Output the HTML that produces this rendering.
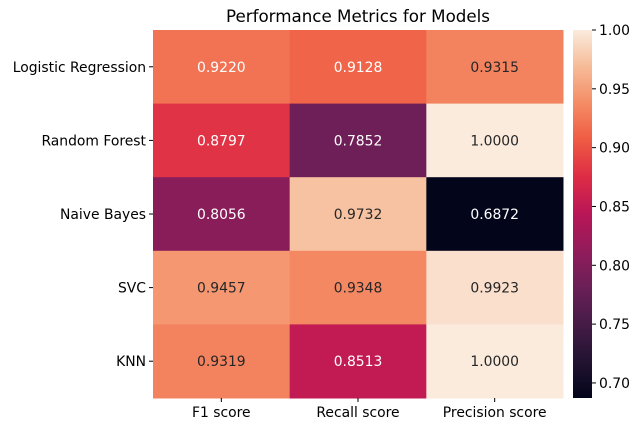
<!DOCTYPE html>
<html><head><meta charset="utf-8"><style>
body{margin:0;background:#fff;}
svg{display:block;font-family:"DejaVu Sans","Liberation Sans",sans-serif;}
</style></head><body>
<svg id="chart" width="643" height="433"></svg>
<script>
const models = ["Logistic Regression","Random Forest","Naive Bayes","SVC","KNN"];
const metrics = ["F1 score","Recall score","Precision score"];
const f1Values = [0.9220,0.8797,0.8056,0.9457,0.9319];
const recallValues = [0.9128,0.7852,0.9732,0.9348,0.8513];
const precisionValues = [0.9315,1.0000,0.6872,0.9923,1.0000];
const cbTicks = [0.70,0.75,0.80,0.85,0.90,0.95,1.00];

const series = [f1Values, recallValues, precisionValues];
const all = series.flat();
const vmin = Math.min(...all), vmax = Math.max(...all);
const L=153, R=563, T=30, B=398;
const cw=(R-L)/metrics.length, rh=(B-T)/models.length;
const stops=["#03051a","#221331","#451c47","#6a1f56","#921c5b","#b91657","#dd2c45","#ef5a43","#f48c65","#f6bb97","#faebdd"];
function hex(h){return [1,3,5].map(i=>parseInt(h.substr(i,2),16));}
function color(v){
  let t=(v-vmin)/(vmax-vmin); t=Math.max(0,Math.min(1,t));
  const p=t*10, i=Math.min(9,Math.floor(p)), f=p-i;
  const a=hex(stops[i]), b=hex(stops[i+1]);
  return "rgb("+a.map((x,k)=>Math.round(x+(b[k]-x)*f)).join(",")+")";
}
function lum(v){const c=color(v).match(/\d+/g).map(Number);return (0.299*c[0]+0.587*c[1]+0.114*c[2])/255;}
const svg=document.getElementById("chart");
const NS="http://www.w3.org/2000/svg";
function mk(tag,attrs,parent){const e=document.createElementNS(NS,tag);for(const k in attrs)e.setAttribute(k,attrs[k]);(parent||svg).appendChild(e);return e;}
const xs=j=>L+j*cw, ys=i=>T+i*rh;
const FS="13.9";

const title=mk("text",{x:(L+R)/2,y:22,"text-anchor":"middle","font-size":"16.7",fill:"#000"});
title.textContent="Performance Metrics for Models";



for(let j=0;j<metrics.length;j++){
  for(let i=0;i<models.length;i++){
    const v=series[j][i];
    const r=mk("rect",{x:xs(j),y:ys(i),width:cw+0.5,height:rh+0.5,fill:color(v)});
    
    
    const t=mk("text",{x:xs(j)+cw/2,y:ys(i)+rh/2+5,"text-anchor":"middle","font-size":FS,fill:lum(v)>0.6?"#262626":"#fff"});
    t.textContent=v.toFixed(4);
    
    
  }
}
models.forEach((m,i)=>{
  const y=ys(i)+rh/2;
  mk("line",{x1:L-4,x2:L,y1:y,y2:y,stroke:"#000","stroke-width":1});
  const t=mk("text",{x:L-7,y:y+5,"text-anchor":"end","font-size":FS,fill:"#000"});
  t.textContent=m;
  
  
});
metrics.forEach((m,j)=>{
  const x=xs(j)+cw/2;
  mk("line",{x1:x,x2:x,y1:B,y2:B+4,stroke:"#000","stroke-width":1});
  const t=mk("text",{x:x,y:B+19,"text-anchor":"middle","font-size":FS,fill:"#000"});
  t.textContent=m;
  
  
});
const CL=573, CR=592;
const defs=mk("defs",{});
const g=mk("linearGradient",{id:"cb",x1:0,y1:1,x2:0,y2:0},defs);
stops.forEach((s,k)=>mk("stop",{offset:k/10,"stop-color":s},g));
const cb=mk("rect",{x:CL,y:T,width:CR-CL,height:B-T,fill:"url(#cb)"});


const cy=v=>B-(v-vmin)/(vmax-vmin)*(B-T);
cbTicks.forEach(v=>{
  const y=cy(v);
  mk("line",{x1:CR,x2:CR+4,y1:y,y2:y,stroke:"#000","stroke-width":1});
  const t=mk("text",{x:CR+7,y:y+5,"font-size":FS,fill:"#000"});
  t.textContent=v.toFixed(2);
  
  
});
</script>
</body></html>
